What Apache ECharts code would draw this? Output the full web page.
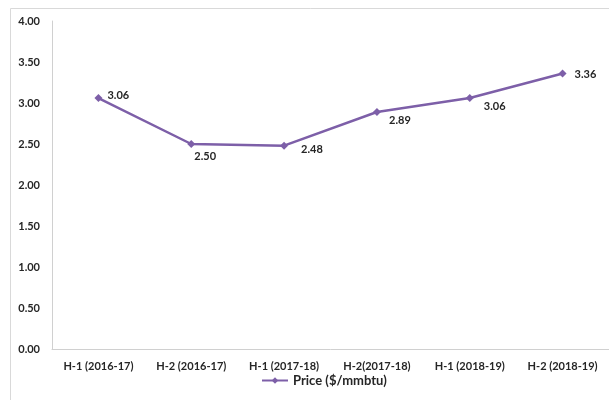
<!DOCTYPE html>
<html>
<head>
<meta charset="utf-8">
<script src="https://cdn.jsdelivr.net/npm/echarts@6/dist/echarts.min.js"></script>
<style>
html, body { margin: 0; padding: 0; background: #fff; }
#chart { width: 609px; height: 400px; }
</style>
</head>
<body>
<div id="chart"></div>
<script>
'use strict';
var categories = ['H-1 (2016-17)', 'H-2 (2016-17)', 'H-1 (2017-18)', 'H-2(2017-18)', 'H-1 (2018-19)', 'H-2 (2018-19)'];
var prices = [3.06, 2.50, 2.48, 2.89, 3.06, 3.36];
var seriesName = 'Price ($/mmbtu)';

var chart = echarts.init(document.getElementById('chart'));
var font = 'Lato, "Open Sans", sans-serif';
var purple = '#7d5fa8';

// where each value label sits relative to its point
var labelPlace = [
	{position: 'right', offset: [0, -3]},
	{position: 'bottom', offset: [14, -2]},
	{position: 'right', offset: [8, 4]},
	{position: 'bottom', offset: [23, -6]},
	{position: 'bottom', offset: [25, -6]},
	{position: 'right', offset: [3, 1]}
];

var seriesData = prices.map(function (v, i) {
	return {
		value: v,
		label: labelPlace[i]
	};
});

var options = {
	animation: false,
	textStyle: {fontFamily: font},
	graphic: [{
		type: 'rect',
		shape: {x: 10.5, y: 8.5, width: 620, height: 420},
		style: {fill: 'none', stroke: '#d9d9d9', lineWidth: 1},
		silent: true
	}],
	grid: {left: 52, width: 562, top: 21, bottom: 51, containLabel: false},
	legend: {
		bottom: 8,
		left: 256,
		data: [seriesName],
		itemWidth: 26,
		itemHeight: 8,
		itemGap: 3,
		textStyle: {fontFamily: font, fontWeight: 'bold', fontSize: 13, color: '#262626'}
	},
	xAxis: [{
		type: 'category',
		boundaryGap: true,
		data: categories,
		axisLine: {lineStyle: {color: '#d0d0d0'}},
		axisTick: {show: false},
		axisLabel: {interval: 0, fontWeight: 'bold', fontSize: 11, color: '#262626', margin: 12}
	}],
	yAxis: [{
		type: 'value',
		min: 0,
		max: 4,
		interval: 0.5,
		axisLine: {show: true, lineStyle: {color: '#d0d0d0'}},
		axisTick: {show: false},
		splitLine: {show: false},
		axisLabel: {
			fontWeight: 'bold', fontSize: 11, color: '#262626', margin: 12,
			formatter: function (v) { return v.toFixed(2); }
		}
	}],
	series: [{
		name: seriesName,
		type: 'line',
		data: seriesData,
		symbol: 'diamond',
		symbolSize: 8,
		lineStyle: {color: purple, width: 2.5},
		itemStyle: {color: purple},
		label: {
			show: true,
			fontWeight: 'bold',
			fontSize: 11,
			color: '#262626',
			formatter: function (p) { return p.value.toFixed(2); }
		}
	}]
};

chart.setOption(options);
</script>
</body>
</html>
